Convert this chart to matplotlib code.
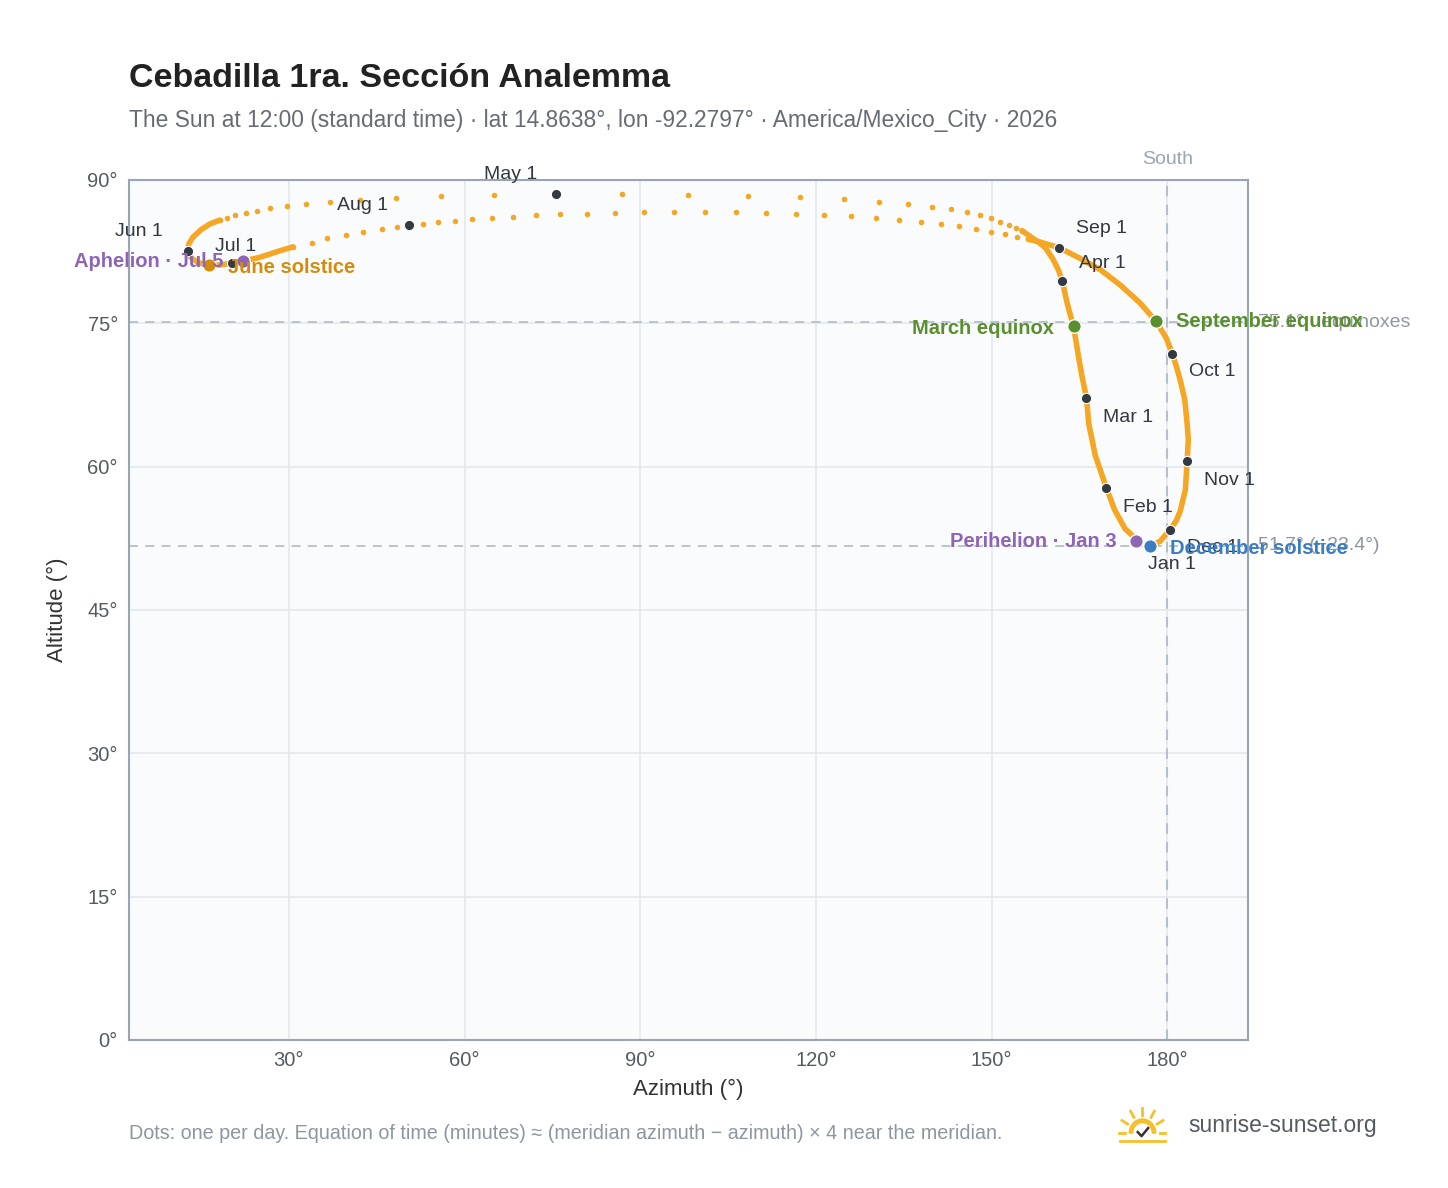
import numpy as np
import matplotlib
matplotlib.use("Agg")
import matplotlib.pyplot as plt
from matplotlib.patches import Wedge

plt.rcParams['font.family'] = ['Liberation Sans', 'DejaVu Sans']

# Dense parts of the daily track, az/alt degrees
denseA_az = [177.1,175.4,172.8,171.0,169.6,167.7,166.6,166.2,165.4,164.8,164.0,163.3,162.8,162.1,161.4,160.5,159.2,158.0,156.8,155.2]
denseA_alt = [51.7,52.0,53.5,55.5,57.8,61.2,64.5,67.2,69.6,71.7,74.7,76.2,77.4,79.4,80.6,81.7,82.9,83.5,84.0,84.7]
denseB_az = [18.2,16.5,15.0,13.6,12.9,12.7,13.0,13.6,14.8,16.3,18.2,20.3,22.1,25.0,28.5,30.7]
denseB_alt = [85.8,85.4,84.8,84.0,83.3,82.6,82.1,81.7,81.3,81.1,81.1,81.3,81.5,81.9,82.6,83.0]
denseC_az = [156.3,158.3,161.6,165.1,168.6,172.0,175.4,178.1,179.8,180.9,181.6,182.2,183.0,183.4,183.6,183.4,183.1,182.6,182.2,181.5,180.5,178.8,177.1]
denseC_alt = [83.8,83.5,82.9,81.8,80.6,79.0,77.1,75.2,73.5,71.8,70.4,69.1,67.0,64.5,62.8,60.6,57.6,56.3,55.3,54.3,53.4,52.2,51.7]
# Sparse daily dots near the zenith
spring_az = [155.2,154.2,153.0,151.5,149.9,148.1,145.8,143.1,139.9,135.8,130.8,124.8,117.3,108.4,98.2,86.9,75.6,65.0,56.0,48.3,42.1,37.0,32.9,29.7,26.8,24.5,22.7,20.8,19.4,18.2]
spring_alt = [84.7,85.0,85.3,85.6,86.0,86.3,86.6,87.0,87.2,87.5,87.7,88.0,88.2,88.3,88.4,88.5,88.5,88.4,88.3,88.1,87.9,87.7,87.5,87.3,87.1,86.8,86.5,86.3,86.0,85.8]
summer_az = [30.7,33.9,36.5,39.7,42.6,45.9,48.5,50.5,52.9,55.5,58.4,61.3,64.7,68.3,72.2,76.3,80.9,85.7,90.7,95.8,101.1,106.4,111.5,116.6,121.4,126.0,130.3,134.2,138.0,141.4,144.5,147.4,149.9,152.3,154.4,156.3]
summer_alt = [83.0,83.4,83.9,84.2,84.6,84.9,85.1,85.3,85.4,85.6,85.7,85.9,86.0,86.1,86.3,86.4,86.4,86.5,86.6,86.6,86.6,86.6,86.5,86.4,86.3,86.2,86.0,85.8,85.6,85.4,85.2,84.9,84.6,84.3,84.0,83.8]

months = ["Jan 1","Feb 1","Mar 1","Apr 1","May 1","Jun 1","Jul 1","Aug 1","Sep 1","Oct 1","Nov 1","Dec 1"]
month_az = [176.8,169.6,166.2,162.1,75.6,12.7,20.3,50.5,161.6,180.9,183.4,180.5]
month_alt = [51.8,57.8,67.2,79.4,88.5,82.6,81.3,85.3,82.9,71.8,60.6,53.4]
month_off = [(0,-14),(12,-14),(12,-14),(12,13),(-52,14),(-52,14),(-12,12),(-52,14),(12,14),(12,-13),(12,-14),(12,-13)]

events = ["March equinox","September equinox","June solstice","December solstice","Aphelion · Jul 5","Perihelion · Jan 3"]
event_az = [164.0,178.1,16.3,177.1,22.1,174.7]
event_alt = [74.7,75.2,81.1,51.7,81.5,52.2]
event_col = ["#5a8f2e","#5a8f2e","#d48d0a","#3b7dc4","#8e65b4","#8e65b4"]
event_ha = ["right","left","left","left","right","right"]
event_off = [(-14,-2),(14,0),(14,-2),(14,-2),(-14,0),(-14,0)]

eq_alt = 75.1
dec_alt = 51.7

fig = plt.figure(figsize=(14.48,11.88), dpi=100)
ax = fig.add_axes([0.0891,0.1246,0.7728,0.7239])
ax.set_facecolor("#f9fbfd")
ax.set_xlim(2.7,193.8); ax.set_ylim(0,90)
ax.set_xticks([30,60,90,120,150,180]); ax.set_xticklabels([f"{v}°" for v in [30,60,90,120,150,180]])
ax.set_yticks([0,15,30,45,60,75,90]); ax.set_yticklabels([f"{v}°" for v in [0,15,30,45,60,75,90]])
ax.grid(color="#e3e8ee", lw=1.2); ax.set_axisbelow(True)
for s in ax.spines.values(): s.set_color("#9aa5b1"); s.set_linewidth(1.5)
ax.tick_params(colors="#555b63", labelsize=14.5, length=0, pad=8)
ax.set_xlabel("Azimuth (°)", fontsize=16, color="#333", labelpad=6)
ax.set_ylabel("Altitude (°)", fontsize=16, color="#333", labelpad=14)

ax.axhline(eq_alt, color="#b5c0cc", ls=(0,(5,4)), lw=1.3, zorder=1)
ax.axhline(dec_alt, color="#b5c0cc", ls=(0,(5,4)), lw=1.3, zorder=1)
ax.axvline(180, color="#b5c0cc", ls=(0,(5,4)), lw=1.5, zorder=1)
ax.text(180, 91.3, "South", ha="center", va="bottom", color="#9aa5b1", fontsize=14)
ax.text(195.5, eq_alt, f"{eq_alt}° · equinoxes", ha="left", va="center", color="#8e969f", fontsize=14, clip_on=False)
ax.text(195.5, dec_alt, f"{dec_alt}° (−23.4°)", ha="left", va="center", color="#8e969f", fontsize=14, clip_on=False)

orange = "#f5a623"
for a, b in [(denseA_az,denseA_alt),(denseB_az,denseB_alt),(denseC_az,denseC_alt)]:
    ax.plot(a, b, color=orange, lw=4, solid_capstyle="round", solid_joinstyle="round", zorder=3)
ax.scatter(spring_az+summer_az, spring_alt+summer_alt, s=16, color=orange, zorder=3, lw=0)

ax.scatter(month_az, month_alt, s=55, color="#343a42", zorder=5, edgecolor="white", lw=0.8)
for m, x, y, o in zip(months, month_az, month_alt, month_off):
    ax.annotate(m, (x,y), xytext=o, textcoords="offset points", fontsize=14, color="#333840", ha="left", va="center")

for e, x, y, c, h, o in zip(events, event_az, event_alt, event_col, event_ha, event_off):
    ax.scatter([x],[y], s=95, color=c, zorder=6, edgecolor="white", lw=1)
    ax.annotate(e, (x,y), xytext=o, textcoords="offset points", fontsize=14.5, color=c, ha=h, va="center", fontweight="bold", zorder=7)

fig.text(0.0891, 0.927, "Cebadilla 1ra. Sección Analemma", fontsize=24.5, fontweight="bold", color="#222")
fig.text(0.0891, 0.893, "The Sun at 12:00 (standard time) · lat 14.8638°, lon -92.2797° · America/Mexico_City · 2026", fontsize=16.4, color="#666c74")
fig.text(0.0891, 0.046, "Dots: one per day. Equation of time (minutes) ≈ (meridian azimuth − azimuth) × 4 near the meridian.", fontsize=14.2, color="#8e969f", va="center")
fig.text(0.821, 0.053, "sunrise-sunset.org", fontsize=16.5, color="#555b63", va="center")

# logo
lg = fig.add_axes([0.772,0.036,0.034,0.034]); lg.set_xlim(-1.3,1.3); lg.set_ylim(-0.6,1.4); lg.axis("off")
lg.add_patch(Wedge((0,0),0.7,0,180,width=0.18,color="#f5c02a"))
for t in np.linspace(0,np.pi,7):
    lg.plot([0.9*np.cos(t),1.25*np.cos(t)],[0.9*np.sin(t),1.25*np.sin(t)],color="#f5c02a",lw=2)
lg.plot([-0.25,-0.05,0.3],[0.05,-0.15,0.25],color="#333",lw=1.8)
lg.plot([-1.2,1.2],[-0.4,-0.4],color="#f5c02a",lw=2)

fig.savefig("out.png", dpi=100)
